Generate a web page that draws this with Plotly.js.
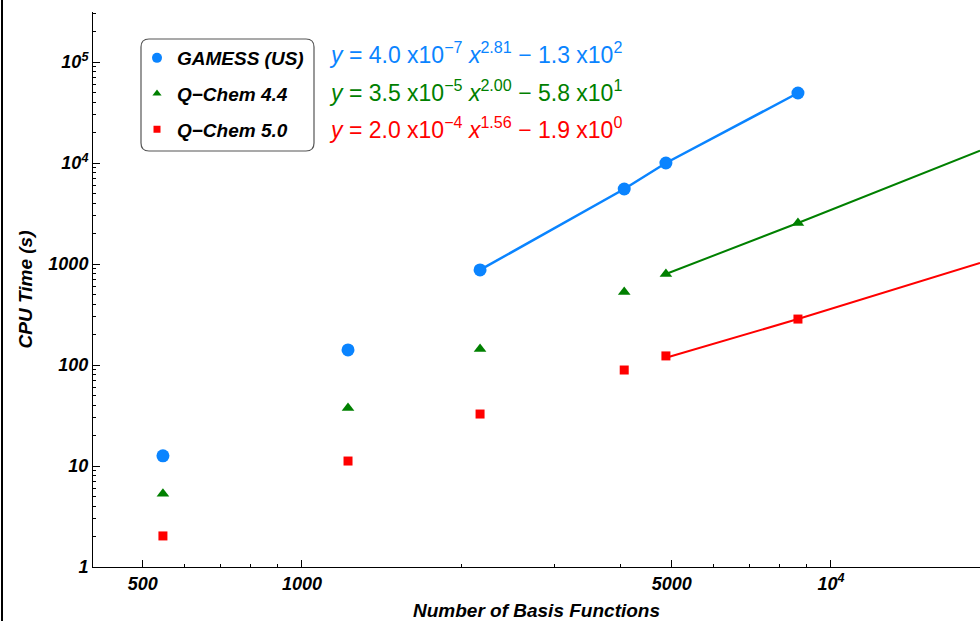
<!DOCTYPE html>
<html>
<head>
<meta charset="utf-8">
<script src="https://cdn.plot.ly/plotly-3.0.1.min.js"></script>
<style>
body{margin:0;padding:0;background:#fff;}
#wrap{position:relative;width:980px;height:621px;overflow:hidden;}
#chart{width:980px;height:621px;}
#edge{position:absolute;left:1px;top:0;width:2px;height:621px;background:#000;}
</style>
</head>
<body>
<div id="wrap"><div id="chart"></div><div id="edge"></div></div>
<script>
// Measured data (basis functions vs CPU time, s)
const basisFunctions = [546, 1222, 2171, 4066, 4875, 8661];
const gamessTime = [12.6, 141, 873, 5530, 10000, 49300];
const qchem44Time = [5.3, 37.5, 144, 528, 796, 2546];
const qchem50Time = [2.03, 11.2, 32.7, 89.2, 123, 285];

// Fitted curves
const gamessFitX = [2171, 4066, 4875, 8661];
const gamessFitY = [873, 5530, 10000, 49300];
const qchem44FitX = [4875, 8661, 19130];
const qchem44FitY = [796, 2546, 13240];
const qchem50FitX = [4875, 8661, 19130];
const qchem50FitY = [118, 285, 1023];

const seriesNames = ['GAMESS (US)', 'Q\u2212Chem 4.4', 'Q\u2212Chem 5.0'];
const equations = [
  '<i>y</i> = 4.0 x10<sup>\u22127</sup> <i>x</i><sup>2.81</sup> \u2212 1.3 x10<sup>2</sup>',
  '<i>y</i> = 3.5 x10<sup>\u22125</sup> <i>x</i><sup>2.00</sup> \u2212 5.8 x10<sup>1</sup>',
  '<i>y</i> = 2.0 x10<sup>\u22124</sup> <i>x</i><sup>1.56</sup> \u2212 1.9 x10<sup>0</sup>'
];

const xTickVals = [500, 1000, 5000, 10000];
const xTickText = ['500', '1000', '5000', '10<sup>4</sup>'];
const yTickVals = [1, 10, 100, 1000, 10000, 100000];
const yTickText = ['1', '10', '100', '1000', '10<sup>4</sup>', '10<sup>5</sup>'];

const BLUE = '#0A84FF', GREEN = '#008000', RED = '#FF0000';
const FONT = 'Liberation Sans, Arial, Helvetica, sans-serif';

const traces = [
  {x: gamessFitX, y: gamessFitY, mode: 'lines', line: {color: BLUE, width: 2.5}, showlegend: false, hoverinfo: 'skip'},
  {x: qchem44FitX, y: qchem44FitY, mode: 'lines', line: {color: GREEN, width: 2}, showlegend: false, hoverinfo: 'skip'},
  {x: qchem50FitX, y: qchem50FitY, mode: 'lines', line: {color: RED, width: 2}, showlegend: false, hoverinfo: 'skip'},
  {x: basisFunctions, y: gamessTime, mode: 'markers', marker: {symbol: 'circle', size: 13, color: BLUE}, showlegend: false},
  {x: basisFunctions, y: qchem44Time, mode: 'markers', marker: {symbol: 'triangle-up', size: 11, color: GREEN}, showlegend: false},
  {x: basisFunctions, y: qchem50Time, mode: 'markers', marker: {symbol: 'square', size: 9, color: RED}, showlegend: false},
  // legend entries
  {x: [null], y: [null], mode: 'markers', name: seriesNames[0], legendgroup: 'a', marker: {symbol: 'circle', size: 10, color: BLUE}},
  {x: [null], y: [null], mode: 'markers', name: seriesNames[1], legendgroup: 'b', marker: {symbol: 'triangle-up', size: 8, color: GREEN}},
  {x: [null], y: [null], mode: 'markers', name: seriesNames[2], legendgroup: 'c', marker: {symbol: 'square', size: 7, color: RED}}
];

const L = 93, R = 980, T = 12, B = 567;
const pw = R - L, ph = B - T;
const px = v => (v - L) / pw;
const py = v => (B - v) / ph;

// rounded legend frame
const bx0 = px(141), bx1 = px(314), by0 = py(151), by1 = py(39);
const rx = 8 / pw, ry = 8 / ph;
const framePath = `M ${bx0 + rx} ${by1} L ${bx1 - rx} ${by1} Q ${bx1} ${by1} ${bx1} ${by1 - ry} L ${bx1} ${by0 + ry} Q ${bx1} ${by0} ${bx1 - rx} ${by0} L ${bx0 + rx} ${by0} Q ${bx0} ${by0} ${bx0} ${by0 + ry} L ${bx0} ${by1 - ry} Q ${bx0} ${by1} ${bx0 + rx} ${by1} Z`;

const eqColors = [BLUE, GREEN, RED];
const eqY = [53, 91, 128];
const annotations = equations.map((t, i) => ({
  text: t, xref: 'paper', yref: 'paper', x: px(327), y: py(eqY[i]),
  xanchor: 'left', yanchor: 'middle', showarrow: false,
  font: {family: FONT, size: 23, color: eqColors[i]}
}));

const tickFont = {family: FONT, size: 18, weight: 'bold', style: 'italic', color: '#000'};
const titleFont = {family: FONT, size: 19, weight: 'bold', style: 'italic', color: '#000'};

const layout = {
  width: 980, height: 621,
  margin: {l: L, r: 980 - R, t: T, b: 621 - B},
  paper_bgcolor: '#fff', plot_bgcolor: '#fff',
  font: {family: FONT, color: '#000'},
  xaxis: {
    type: 'log', range: [2.605, 4.2817],
    showgrid: false, zeroline: false, showline: true, linecolor: '#000', linewidth: 1,
    ticks: 'inside', ticklen: 7, tickcolor: '#000',
    tickvals: xTickVals, ticktext: xTickText,
    tickfont: tickFont,
    minor: {ticks: 'inside', ticklen: 3, tickcolor: '#000', showgrid: false, dtick: 'D1'},
    title: {text: 'Number of Basis Functions', font: titleFont, standoff: 12}
  },
  yaxis: {
    type: 'log', range: [0, 5.495],
    showgrid: false, zeroline: false, showline: true, linecolor: '#000', linewidth: 1,
    ticks: 'inside', ticklen: 7, tickcolor: '#000',
    tickvals: yTickVals, ticktext: yTickText,
    tickfont: tickFont,
    minor: {ticks: 'inside', ticklen: 3, tickcolor: '#000', showgrid: false, dtick: 'D1'},
    title: {text: 'CPU Time (s)', font: titleFont, standoff: 10}
  },
  showlegend: true,
  legend: {
    x: px(137), y: py(39), xanchor: 'left', yanchor: 'top',
    bgcolor: 'rgba(0,0,0,0)', borderwidth: 0,
    traceorder: 'grouped', tracegroupgap: 8,
    font: {family: FONT, size: 19, weight: 'bold', style: 'italic', color: '#000'}
  },
  shapes: [{type: 'path', xref: 'paper', yref: 'paper', path: framePath, line: {color: '#555', width: 1.2}, fillcolor: 'rgba(0,0,0,0)'}],
  annotations: annotations
};

Plotly.newPlot('chart', traces, layout, {displayModeBar: false, staticPlot: true});
</script>
</body>
</html>
